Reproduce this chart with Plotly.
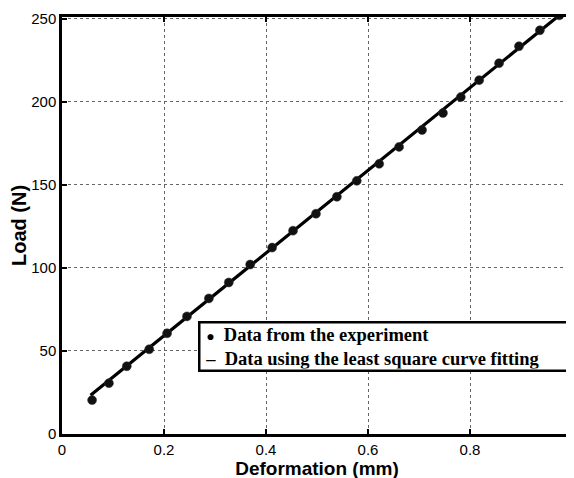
import plotly.graph_objects as go

deformation = [0.059, 0.092, 0.127, 0.171, 0.206, 0.245, 0.288, 0.327, 0.369, 0.412,
               0.453, 0.498, 0.539, 0.578, 0.622, 0.661, 0.706, 0.747, 0.782, 0.818,
               0.857, 0.896, 0.937, 0.975]
load = [20.4, 30.6, 40.8, 51.0, 60.6, 70.8, 81.6, 91.2, 102.0, 112.2,
        122.4, 132.6, 142.8, 152.4, 162.6, 172.8, 183.0, 193.2, 202.8, 213.0,
        223.2, 233.4, 243.0, 252.0]

# Least-square fitted line (end points)
fit_x = [0.056, 0.975]
fit_y = [23.3, 252.0]

x_ticks = [0, 0.2, 0.4, 0.6, 0.8]
x_tick_labels = ["0", "0.2", "0.4", "0.6", "0.8"]
y_ticks = [0, 50, 100, 150, 200, 250]
y_tick_labels = ["0", "50", "100", "150", "200", "250"]

legend_lines = ["Data from the experiment", "Data using the least square curve fitting"]

fig = go.Figure()
fig.add_trace(go.Scatter(x=fit_x, y=fit_y, mode="lines",
                         line=dict(color="black", width=3.2),
                         name=legend_lines[1], showlegend=False))
fig.add_trace(go.Scatter(x=deformation, y=load, mode="markers",
                         marker=dict(color="#111111", size=9,
                                     line=dict(color="#333333", width=0.5)),
                         name=legend_lines[0], showlegend=False))

axis_common = dict(
    showline=True, linecolor="black", linewidth=2.5, mirror="ticks",
    ticks="inside", ticklen=5, tickwidth=2, tickcolor="black",
    showgrid=True, gridcolor="#666666", gridwidth=1, griddash="dot",
    zeroline=False, automargin=False,
    tickfont=dict(family="Liberation Sans, Arial", size=15, color="black"),
)

fig.update_xaxes(range=[0, 1], tickvals=x_ticks, ticktext=x_tick_labels,
                 title=dict(text="<b>Deformation (mm)</b>", standoff=0,
                            font=dict(family="Liberation Sans, Arial", size=19, color="black")),
                 **axis_common)
fig.update_yaxes(range=[0, 251], tickvals=y_ticks, ticktext=y_tick_labels,
                 ticklabeloverflow="allow",
                 title=dict(text="<b>Load (N)</b>", standoff=2,
                            font=dict(family="Liberation Sans, Arial", size=20, color="black")),
                 **axis_common)

legend_text = ("<b>&nbsp;<span style='font-size:14px'>●</span>&nbsp;&nbsp;" + legend_lines[0] + "</b><br>"
               "<b>&nbsp;–&nbsp;&nbsp;" + legend_lines[1] + "</b>")
fig.add_annotation(xref="paper", yref="paper", x=1.0, y=0.211,
                   xanchor="right", yanchor="middle", showarrow=False,
                   text=legend_text, align="left", width=367,
                   font=dict(family="Liberation Serif, Times New Roman", size=18.5, color="black"),
                   bgcolor="white", bordercolor="black", borderwidth=2.5, borderpad=1)

# the page adds an 8px body margin, so margins are shifted to compensate
fig.update_layout(
    width=574, height=478,
    margin=dict(l=54, r=10, t=9, b=52),
    plot_bgcolor="white", paper_bgcolor="white",
    showlegend=False,
)

fig.write_html("out.html")
